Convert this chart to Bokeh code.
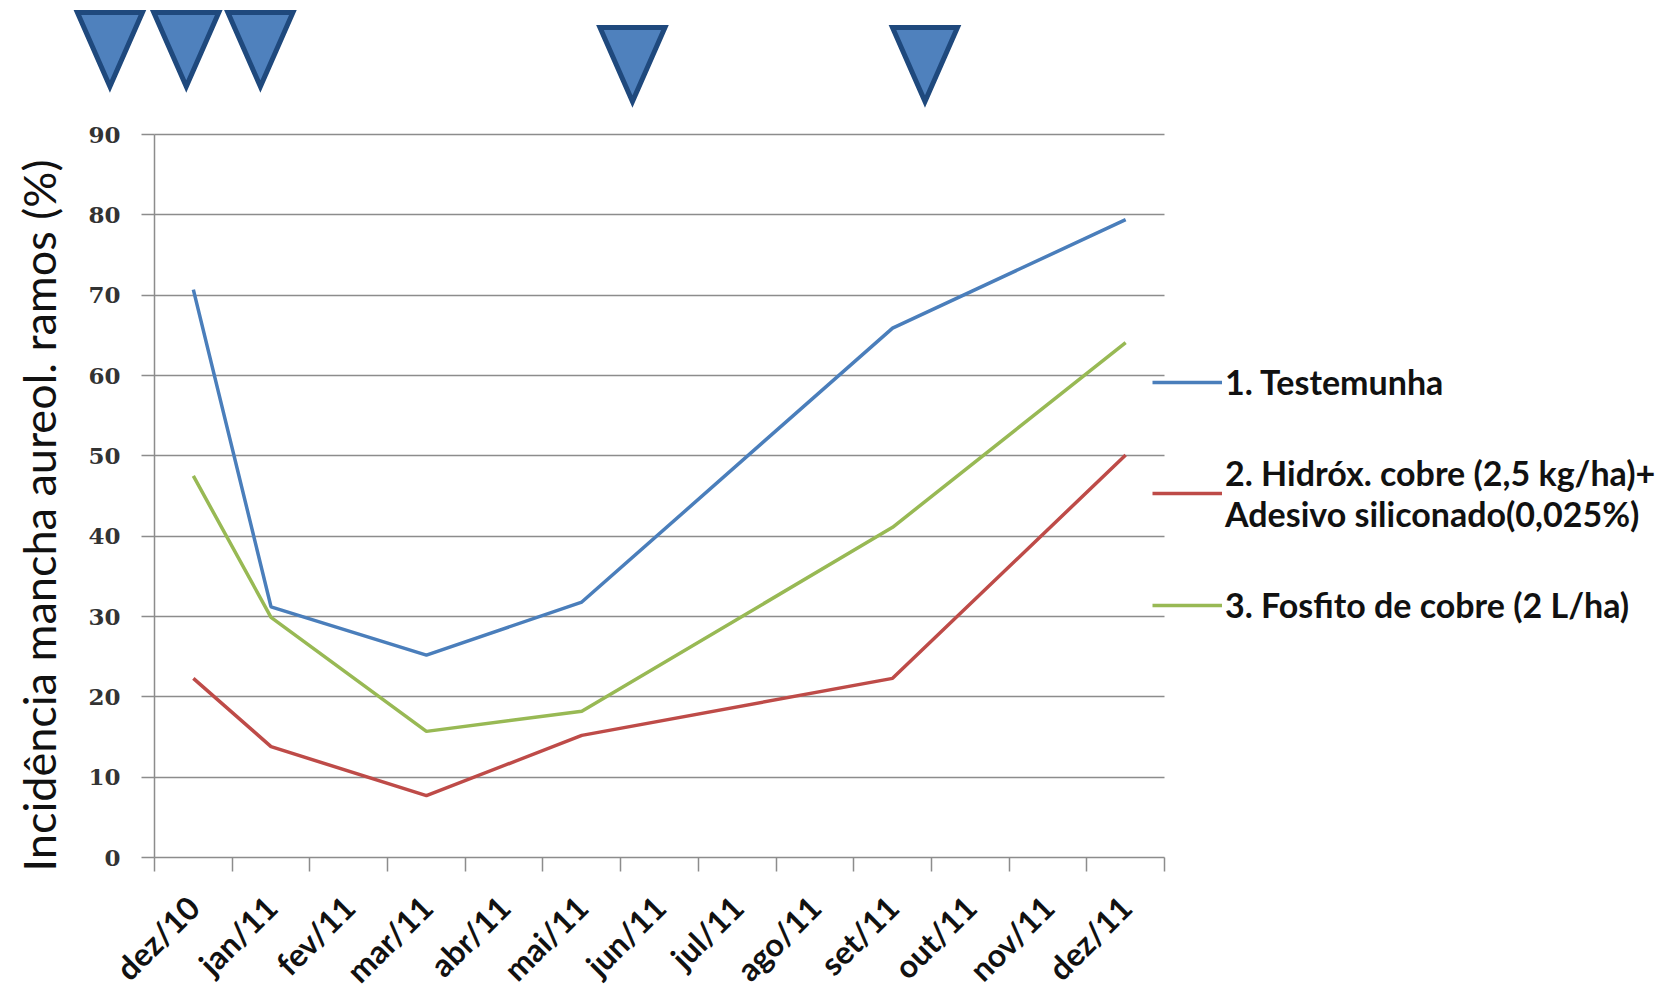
import math

from bokeh.plotting import figure
from bokeh.models import (Range1d, FixedTicker, Legend, LegendItem,
                          ColumnDataSource, Label)
from bokeh.embed import file_html
from bokeh.resources import INLINE

# Meses do eixo (categorias)
meses = ["dez/10", "jan/11", "fev/11", "mar/11", "abr/11", "mai/11", "jun/11",
         "jul/11", "ago/11", "set/11", "out/11", "nov/11", "dez/11"]

# Datas de avaliação e incidência (%) por tratamento
avaliacoes = ["dez/10", "jan/11", "mar/11", "mai/11", "set/11", "dez/11"]
testemunha = [70.7, 31.2, 25.2, 31.8, 65.9, 79.4]
hidroxido_cobre = [22.3, 13.8, 7.7, 15.2, 22.3, 50.1]
fosfito_cobre = [47.5, 29.9, 15.7, 18.2, 41.1, 64.1]

# Aplicações (posição em meses no eixo x)
aplicacoes = [-0.574, 0.409, 1.363, 6.152, 9.917]

nomes = ["1. Testemunha",
         "2. Hidróx. cobre (2,5 kg/ha)+\nAdesivo siliconado(0,025%)",
         "3. Fosfito de cobre (2 L/ha)"]
cores = ["#4a7ebb", "#be4b48", "#98b954"]
titulo_y = "Incidência mancha aureol. ramos (%)"

Y_MAX = 90
W, H = 1663, 984
# área útil das séries, em pixels da página
AX_L, AX_R, AX_T, AX_B = 154, 1164, 134, 857
PX_X = (AX_R - AX_L) / len(meses)
PX_Y = (AX_B - AX_T) / Y_MAX

GRID = "#8c8c8c"
SANS = "Lato"


def px_x(px):
    """posição horizontal da página -> unidades do eixo x"""
    return (px - AX_L) / PX_X


def px_y(py):
    """posição vertical da página -> unidades do eixo y"""
    return (AX_B - py) / PX_Y


p = figure(width=W, height=H, output_backend="svg", toolbar_location=None,
           x_range=Range1d(px_x(0), px_x(W)),
           y_range=Range1d(px_y(H), px_y(0)),
           min_border=0)
p.outline_line_color = None
p.xgrid.visible = False

# marcadores das aplicações, acima da área do gráfico
half = 32.5 / PX_X
desloc = [0, 0, 0, 15, 15]
p.patches(xs=[[a - half, a + half, a] for a in aplicacoes],
          ys=[[px_y(12 + d), px_y(12 + d), px_y(86 + d)] for d in desloc],
          fill_color="#4f81bd", line_color="#1f497d", line_width=5,
          line_join="miter")

centros = [i + 0.5 for i in range(len(meses))]
xa = p.xaxis[0]
xa.fixed_location = 0
xa.bounds = (0, len(meses))
xa.ticker = FixedTicker(ticks=centros, minor_ticks=list(range(len(meses) + 1)))
xa.major_label_overrides = {c: m for c, m in zip(centros, meses)}
xa.major_label_orientation = math.pi / 4
xa.major_tick_line_color = None
xa.major_tick_out = 0
xa.major_tick_in = 0
xa.minor_tick_out = 14
xa.minor_tick_in = 0
xa.minor_tick_line_color = GRID
xa.minor_tick_line_width = 1.5
xa.axis_line_color = GRID
xa.axis_line_width = 1.5
xa.major_label_standoff = 30
xa.major_label_text_font = SANS
xa.major_label_text_font_style = "bold"
xa.major_label_text_font_size = "32px"
xa.major_label_text_color = "#111111"

ya = p.yaxis[0]
ya.fixed_location = 0
ya.bounds = (0, Y_MAX)
ya.ticker = FixedTicker(ticks=list(range(0, Y_MAX + 1, 10)))
ya.minor_tick_line_color = None
ya.major_tick_out = 13
ya.major_tick_in = 0
ya.major_tick_line_color = GRID
ya.major_tick_line_width = 1.5
ya.axis_line_color = GRID
ya.axis_line_width = 1.5
ya.major_label_standoff = 21
ya.major_label_text_font = "DejaVu Serif"
ya.major_label_text_font_style = "bold"
ya.major_label_text_font_size = "23px"
ya.major_label_text_color = "#333333"

# título do eixo y
p.add_layout(Label(x=px_x(38), y=px_y(515), text=titulo_y, angle=math.pi / 2,
                   text_align="center", text_baseline="middle",
                   text_font=SANS, text_font_size="45px", text_color="#111111"))

p.ygrid.ticker = FixedTicker(ticks=list(range(10, Y_MAX + 1, 10)))
p.ygrid.cross_bounds = (0, len(meses))
p.ygrid.grid_line_color = GRID
p.ygrid.grid_line_width = 1.5

itens = []
for nome, cor, serie in zip(nomes, cores, [testemunha, hidroxido_cobre, fosfito_cobre]):
    src = ColumnDataSource(dict(x=[meses.index(d) + 0.5 for d in avaliacoes], y=serie))
    r = p.line("x", "y", source=src, line_color=cor, line_width=3.5)
    itens.append(LegendItem(label=nome, renderers=[r]))

legend = Legend(items=itens, location=(1152, H - 625))
legend.background_fill_alpha = 0
legend.border_line_color = None
legend.glyph_width = 70
legend.glyph_height = 28
legend.label_standoff = 3
legend.padding = 0
legend.margin = 0
legend.spacing = 50
legend.label_text_font = SANS
legend.label_text_font_style = "bold"
legend.label_text_font_size = "34px"
legend.label_text_color = "#111111"
p.add_layout(legend, "center")

open("out.html", "w").write(file_html(p, INLINE))
